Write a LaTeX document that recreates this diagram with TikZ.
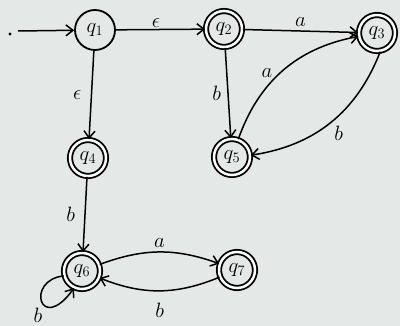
\documentclass[tikz,border=0pt]{standalone}
\usetikzlibrary{arrows.meta}
\definecolor{bgc}{HTML}{E4E9E7}
\begin{document}
\begin{tikzpicture}[x=1pt,y=-1pt,
  st/.style={circle,draw,line width=1.8pt,minimum size=40pt,inner sep=0pt,font=\huge},
  acc/.style={st,double,double distance=2.5pt,minimum size=36pt},
  tr/.style={-{Straight Barb[length=7pt,width=11pt]},line width=1.5pt},
  lab/.style={font=\huge}]
\fill[bgc] (0,0) rectangle (400,326);
\useasboundingbox (0,0) rectangle (400,326);
\node[st] (q1) at (95,30) {$q_1$};
\node[acc] (q2) at (224,29) {$q_2$};
\node[acc] (q3) at (377,33) {$q_3$};
\node[acc] (q5) at (232,157) {$q_5$};
\node[acc] (q4) at (88,158) {$q_4$};
\node[acc] (q6) at (82,271) {$q_6$};
\node[acc] (q7) at (237,270) {$q_7$};
\fill (10,34) circle (1.6pt);
\coordinate (s) at (18,31);
\draw[tr] (s) -- (q1);
\draw[tr] (q1) -- node[lab,above,pos=0.45,inner sep=1pt] {$\epsilon$} (q2);
\draw[tr] (q1) -- node[lab,left,pos=0.5,xshift=-6pt] {$\epsilon$} (q4);
\draw[tr] (q2) -- node[lab,above] {$a$} (q3);
\draw[tr] (q2) -- node[lab,left,pos=0.5,xshift=-3pt] {$b$} (q5);
\draw[tr] (q5) to[bend left=30] node[lab,pos=0.42,above left,inner sep=1pt] {$a$} (q3);
\draw[tr] (q3.280) to[bend left=30] node[lab,pos=0.5,below right,inner sep=3pt] {$b$} (q5);
\draw[tr] (q4) -- node[lab,left,xshift=-6pt] {$b$} (q6);
\draw[tr] (q6) to[bend left=20] node[lab,above] {$a$} (q7);
\draw[tr] (q7) to[bend left=22] node[lab,below,yshift=-8pt] {$b$} (q6);
\draw[tr] (q6.195) .. controls (25,280) and (40,335) .. (q6.245);
\node[lab] (lb) at (38,315) {$b$};
\end{tikzpicture}
\end{document}
